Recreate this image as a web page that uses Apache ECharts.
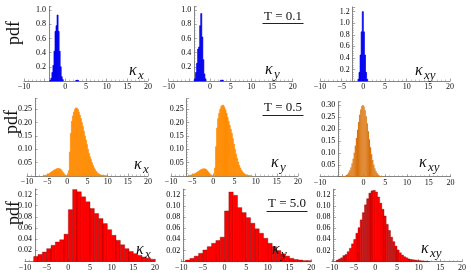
<!DOCTYPE html>
<html><head><meta charset="utf-8">
<script src="https://cdn.jsdelivr.net/npm/echarts@6/dist/echarts.min.js"></script>
<style>html,body{margin:0;padding:0;background:#fff}#c{width:471px;height:273px}</style>
</head><body><div id="c"></div>
<script>
// ---------------- DATA (histogram bin starts, widths and heights) ----------------
// T = 0.1
const t01_kx_start = -3.75, t01_kx_width = 0.25;
const t01_kx = [0.01,0.04,0.12,0.22,0.42,0.70,0.78,0.93,0.70,0.42,0.20,0.06,0.02];
const t01_kx_tail_start = 2.5;
const t01_kx_tail = [0.008,0.01,0.006];
const t01_ky_start = -3.75, t01_ky_width = 0.25;
const t01_ky = [0.03,0.12,0.25,0.45,0.48,0.78,0.95,0.62,0.30,0.10,0.03];
const t01_ky_tail_start = 2.5;
const t01_ky_tail = [0.01,0.012,0.008];
const t01_kxy_start = -1.25, t01_kxy_width = 0.25;
const t01_kxy = [0.03,0.15,0.45,0.85,1.20,0.85,0.45,0.15,0.03];

// T = 0.5
const t05_kx_start = -6, t05_kx_width = 0.25;
const t05_kx = [0.001,0.002,0.003,0.004,0.006,0.008,0.010,0.013,0.016,0.018,0.021,0.023,0.025,0.027,0.028,0.028,
  0.027,0.025,0.020,0.015,0.009,0.005,0.002,0.001,
  0.002,0.02,0.09,0.16,0.205,0.225,0.24,0.25,0.255,0.255,0.25,0.24,0.228,0.215,0.20,0.185,0.168,0.15,0.135,0.118,
  0.10,0.085,0.072,0.062,0.05,0.04,0.031,0.024,0.018,0.013,0.009,0.007,0.005,0.004,0.003,0.002,0.0015,0.001,0.001,0.0005];
const t05_ky_start = -6, t05_ky_width = 0.25;
const t05_ky = [0.001,0.002,0.003,0.004,0.005,0.007,0.009,0.011,0.013,0.016,0.019,0.022,0.024,0.026,0.027,0.027,
  0.026,0.023,0.019,0.014,0.009,0.005,0.002,0.001,
  0.003,0.03,0.11,0.18,0.215,0.235,0.25,0.26,0.265,0.265,0.258,0.248,0.235,0.22,0.205,0.19,0.175,0.16,0.14,0.12,
  0.10,0.082,0.066,0.052,0.04,0.03,0.022,0.016,0.011,0.008,0.005,0.004,0.003,0.002,0.001,0.001];
const t05_kxy_start = -5, t05_kxy_width = 0.25;
const t05_kxy = [0.001,0.0015,0.0025,0.004,0.007,0.011,0.018,0.027,0.039,0.055,0.075,0.100,0.130,0.162,0.196,0.229,
  0.259,0.281,0.296,0.300,0.294,0.278,0.253,0.223,0.190,0.156,0.123,0.094,0.070,0.050,0.034,0.023,0.015,0.009,
  0.005,0.003,0.0015,0.001];

// T = 5.0
const t50_kx_start = -8, t50_kx_width = 1;
const t50_kx = [0.009,0.0126,0.017,0.023,0.029,0.035,0.039,0.049,0.093,0.129,0.125,0.116,0.107,0.095,0.086,0.077,
  0.068,0.057,0.047,0.038,0.030,0.023,0.018,0.014,0.011,0.008,0.006,0.004];
const t50_ky_start = -9, t50_ky_width = 1;
const t50_ky = [0.003,0.006,0.010,0.015,0.021,0.027,0.033,0.038,0.044,0.091,0.125,0.119,0.097,0.088,0.079,0.069,
  0.059,0.051,0.042,0.033,0.027,0.020,0.014,0.010,0.006,0.004,0.003,0.002,0.002];
const t50_kxy_start = -9, t50_kxy_width = 0.5;
const t50_kxy = [0.003,0.005,0.007,0.011,0.013,0.018,0.024,0.032,0.040,0.051,0.061,0.075,0.088,0.102,0.113,0.123,
  0.127,0.128,0.125,0.116,0.105,0.094,0.082,0.067,0.056,0.044,0.036,0.028,0.021,0.016,0.012,0.009,0.007,0.005,
  0.004,0.0035,0.003,0.0025,0.002,0.0015,0.001,0.001,0.0005];

const xTicks = [-10,-5,0,5,10,15,20];
const titles = ['T = 0.1','T = 0.5','T = 5.0'];

// ---------------- BUILD ----------------
function hist(start, width, vals){ return vals.map((v,i)=>[start+i*width, start+(i+1)*width, v]); }

const BLUE = '#0000EE', ORANGE = '#FF8C00', DORANGE = '#D46C00', RED = '#FF0000';
const panels = [
  {data: hist(t01_kx_start,t01_kx_width,t01_kx).concat(hist(t01_kx_tail_start,0.25,t01_kx_tail)), fill:BLUE, stroke:BLUE, lw:0.7,
   g:{left:24,top:6.5,width:124,height:74.5}, ymax:1.05, yint:0.2, dec:1, off:-25, hideM5:true},
  {data: hist(t01_ky_start,t01_ky_width,t01_ky).concat(hist(t01_ky_tail_start,0.25,t01_ky_tail)), fill:BLUE, stroke:BLUE, lw:0.7,
   g:{left:168.7,top:6.5,width:124,height:74.5}, ymax:1.05, yint:0.2, dec:1, off:-25.6, hideM5:true},
  {data: hist(t01_kxy_start,t01_kxy_width,t01_kxy), fill:BLUE, stroke:BLUE, lw:0.7,
   g:{left:320,top:7,width:130,height:74}, ymax:1.28, yint:0.2, dec:1, off:-32.7, hideM5:false},
  {data: hist(t05_kx_start,t05_kx_width,t05_kx), fill:ORANGE, stroke:ORANGE, lw:0.6,
   g:{left:27,top:98.6,width:121,height:77.4}, ymax:0.29, yint:0.05, dec:2, off:-8, hideM5:false},
  {data: hist(t05_ky_start,t05_ky_width,t05_ky), fill:ORANGE, stroke:ORANGE, lw:0.6,
   g:{left:171,top:98.6,width:127,height:77.4}, ymax:0.29, yint:0.05, dec:2, off:-15.7, hideM5:false},
  {data: hist(t05_kxy_start,t05_kxy_width,t05_kxy), fill:DORANGE, stroke:'rgba(235,140,60,0.55)', lw:0.25,
   g:{left:320,top:101.7,width:130.5,height:75}, ymax:0.314, yint:0.05, dec:2, off:-18.3, hideM5:true},
  {data: hist(t50_kx_start,t50_kx_width,t50_kx), fill:RED, stroke:'rgba(110,0,0,0.7)', lw:0.5,
   g:{left:25,top:189,width:130,height:72.5}, ymax:0.13, yint:0.02, dec:2, off:-10, hideM5:false},
  {data: hist(t50_ky_start,t50_ky_width,t50_ky), fill:RED, stroke:'rgba(110,0,0,0.7)', lw:0.5,
   g:{left:181.2,top:189.2,width:130,height:72.5}, ymax:0.13, yint:0.02, dec:2, off:-2.1, hideM5:false},
  {data: hist(t50_kxy_start,t50_kxy_width,t50_kxy), fill:RED, stroke:'rgba(110,0,0,0.7)', lw:0.5,
   g:{left:332,top:189.2,width:130,height:72.5}, ymax:0.13, yint:0.02, dec:2, off:-1.6, hideM5:false}
];

const FONT = '"Liberation Serif","DejaVu Serif",serif';
const axisCol = '#666';

const option = {
  animation:false,
  grid: panels.map(p=>Object.assign({containLabel:false}, p.g)),
  xAxis: panels.map((p,i)=>({
    gridIndex:i, type:'value', min:xTicks[0], max:xTicks[xTicks.length-1], interval:5,
    axisLine:{show:true,onZero:false,lineStyle:{color:axisCol,width:0.8}},
    axisTick:{show:true,inside:true,length:2.5,lineStyle:{color:axisCol,width:0.6}},
    minorTick:{show:true,splitNumber:5,length:1.5,lineStyle:{color:'#888',width:0.5}},
    splitLine:{show:false}, minorSplitLine:{show:false},
    axisLabel:{fontSize:8,fontFamily:FONT,color:'#111',margin:2,hideOverlap:false,
      formatter:v=>{ if(p.hideM5 && v===-5) return ''; return v<0?'\u2212'+Math.abs(v):String(v);} }
  })),
  yAxis: panels.map((p,i)=>({
    gridIndex:i, type:'value', position:'left', min:0, max:p.ymax, interval:p.yint, offset:p.off,
    axisLine:{show:true,onZero:false,lineStyle:{color:axisCol,width:0.8}},
    axisTick:{show:true,inside:true,length:2.5,lineStyle:{color:axisCol,width:0.6}},
    minorTick:{show:true,splitNumber:5,length:1.3,lineStyle:{color:'#888',width:0.5}},
    splitLine:{show:false}, minorSplitLine:{show:false},
    axisLabel:{fontSize:8,fontFamily:FONT,color:'#000',margin:3,showMinLabel:false,showMaxLabel:false,hideOverlap:false,
      formatter:v=> (Math.abs(v/p.yint-Math.round(v/p.yint))<1e-6 && v>0) ? v.toFixed(p.dec) : ''}
  })),
  series: panels.map((p,i)=>({
    type:'custom', xAxisIndex:i, yAxisIndex:i, silent:true,
    encode:{x:[0,1], y:2},
    data:p.data,
    renderItem:(params, api)=>{
      const a = api.coord([api.value(0), api.value(2)]);
      const b = api.coord([api.value(1), 0]);
      return {type:'rect', shape:{x:a[0], y:a[1], width:b[0]-a[0], height:b[1]-a[1]},
        style:{fill:p.fill, stroke:p.stroke, lineWidth:p.lw}};
    }
  })),
  graphic: []
};

// text labels
const G = option.graphic;
function kappa(sub,x,base){
  G.push({type:'text', x:x, y:base, silent:true, z:10, style:{text:'\u03BA', fontSize:16, fontStyle:'italic', fontFamily:FONT, fill:'#111', align:'left', verticalAlign:'bottom'}});
  G.push({type:'text', x:x+9, y:base+3, silent:true, z:10, style:{text:sub, fontSize:13, fontStyle:'italic', fontFamily:FONT, fill:'#111', align:'left', verticalAlign:'bottom'}});
}
// pdf labels
[[14,33],[12,122],[14,213]].forEach(([x,y])=>{
  G.push({type:'text', x:x, y:y, rotation:Math.PI/2, silent:true,
    style:{text:'pdf', fontSize:18, fontFamily:FONT, fill:'#111', align:'center', verticalAlign:'middle'}});
});
kappa('x',129,79); kappa('y',265,78); kappa('xy',415,79);
kappa('x',134,173); kappa('y',271,171); kappa('xy',419,171);
kappa('x',136,258); kappa('y',272,258); kappa('xy',421,257);
// T labels with underline
[[283,17,23.5],[283,108,115.5],[287,204,211.5]].forEach(([cx,cy,uy],i)=>{
  G.push({type:'text', x:cx, y:cy, silent:true, style:{text:titles[i], fontSize:13, fontFamily:FONT, fill:'#111', align:'center', verticalAlign:'middle'}});
  G.push({type:'line', silent:true, shape:{x1:cx-20.5,y1:uy,x2:cx+20.5,y2:uy}, style:{stroke:'#222',lineWidth:1}});
});

const chart = echarts.init(document.getElementById('c'), null, {renderer:'canvas'});
chart.setOption(option);
</script></body></html>
